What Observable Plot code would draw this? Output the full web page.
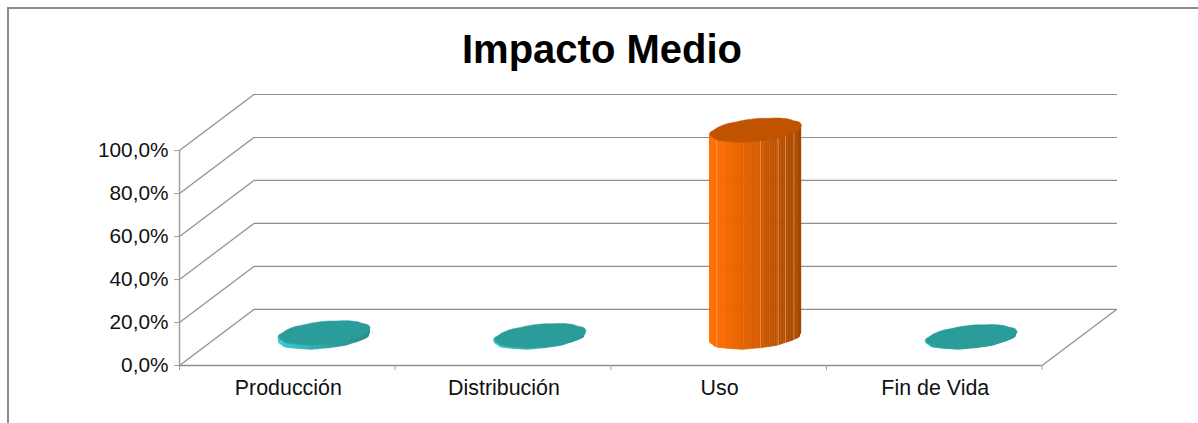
<!DOCTYPE html>
<html lang="es">
<head>
<meta charset="utf-8">
<title>Impacto Medio</title>
<script src="https://cdn.jsdelivr.net/npm/d3@7"></script>
<script src="https://cdn.jsdelivr.net/npm/@observablehq/plot@0.6"></script>
<style>
  html, body { margin: 0; background: #fff; }
  #chart { position: relative; width: 1198px; height: 423px; overflow: hidden; }
  #chart svg { position: absolute; left: 0; top: 0; }
  #border { position: absolute; left: 7px; top: 7px; right: 0; bottom: 0;
            border-left: 2px solid #8c8c8c; border-top: 2px solid #8c8c8c; }
</style>
</head>
<body>
<div id="chart"><div id="border"></div></div>
<script>
// Life-cycle stages and their share of the mean impact (percent)
const stages = ["Producción", "Distribución", "Uso", "Fin de Vida"];
const impact = [2.2, 0.9, 96.5, 0.4];
const percentTicks = [0, 20, 40, 60, 80, 100];
const stageEdges = [0, 1, 2, 3, 4];

// Oblique projection of the 3D box: how far the back wall is shifted,
// in category units along x and percent units along y
const depthX = 0.345;
const depthY = 26.1;

// Cylinder cross-section on the floor
const radius = 0.198;      // category units
const thickness = 0.43;    // share of the box depth

const project = {
  x: (d) => d.cat + d.depth * depthX,
  y: (d) => d.val + d.depth * depthY
};

const teal = {top: "#2a9d9a", side: ["#38d2d3", "#35c8c9", "#2ba5a5", "#289493", "#26898a"]};
const orange = {top: "#c05300", side: ["#ff7100", "#fc6c00", "#d95e00", "#b95100", "#a34600"]};
const palettes = [teal, teal, orange, teal];
// Positions along the silhouette (0 = left, 1 = right) of the facet seams
const seams = [0.08, 0.55, 0.74, 0.83, 0.92];

// Slightly irregular outline of the low-resolution cylinder facets
const wobble = (a) => 1 + 0.014 * Math.cos(9 * a + 0.8) + 0.007 * Math.cos(17 * a);

const rim = (i, a, val) => {
  const w = wobble(a);
  return {
    cat: i + 0.5 + radius * w * Math.cos(a),
    depth: 0.5 + (thickness / 2) * w * Math.sin(a),
    val
  };
};

// Angle of the left silhouette point of the projected ellipse
const startAngle = Math.PI + Math.atan2((thickness / 2) * depthX, radius);
const faceted = 60;

const tops = [], strips = [], seamLines = [];
stages.forEach((stage, i) => {
  const value = impact[i];
  const shade = d3.scaleLinear().domain([0, 0.08, 0.5, 0.75, 1]).range(palettes[i].side);
  d3.range(faceted).forEach((k) => {
    const a0 = startAngle + (k / faceted) * Math.PI;
    const a1 = startAngle + ((k + 1) / faceted) * Math.PI;
    const frac = (1 - Math.cos(((k + 0.5) / faceted) * Math.PI)) / 2;
    [a0, a1].forEach((a) => {
      const low = rim(i, a, 0);
      strips.push({cat: low.cat, depth: low.depth, top: value, id: `${i}-${k}`, fill: shade(frac)});
    });
  });
  d3.range(97).forEach((k) => {
    tops.push({...rim(i, (k / 96) * 2 * Math.PI, value), id: i, fill: palettes[i].top});
  });
  if (value > 50) {
    seams.forEach((s, j) => {
      const a = startAngle + Math.acos(1 - 2 * s);
      const low = rim(i, a, 0);
      seamLines.push({...low, id: j}, {...low, val: value, id: j});
    });
  }
});

// Wireframe of the box: side wall, back wall and floor
const wallLines = percentTicks.flatMap((v) => [
  {cat: 0, depth: 0, val: v, id: `wall-${v}`},
  {cat: 0, depth: 1, val: v, id: `wall-${v}`},
  {cat: 4, depth: 1, val: v, id: `wall-${v}`}
]);
const floorEdge = [
  {cat: 4, depth: 0, val: 0},
  {cat: 4, depth: 1, val: 0}
];

const chart = Plot.plot({
  width: 1198,
  height: 423,
  marginLeft: 179,
  marginRight: 82,
  marginTop: 94,
  marginBottom: 58,
  style: {background: "transparent", fontFamily: "'Liberation Sans', Arial, sans-serif"},
  x: {type: "linear", domain: [0, 4 + depthX], axis: null},
  y: {type: "linear", domain: [0, 100 + depthY], axis: null},
  color: {type: "identity"},
  marks: [
    Plot.text(["Impacto Medio"], {
      frameAnchor: "top", dx: -46, dy: -44, lineAnchor: "middle",
      fontSize: 40, fontWeight: "bold", fill: "#000"
    }),
    Plot.line(wallLines, {...project, z: "id", stroke: "#8e8e8e", strokeWidth: 1.2}),
    Plot.line(floorEdge, {...project, stroke: "#8e8e8e", strokeWidth: 1.2}),
    Plot.ruleX([0], {y1: 0, y2: 100, stroke: "#a0a0a0", strokeWidth: 1.5}),
    Plot.ruleY([0], {x1: 0, x2: 4, stroke: "#8e8e8e", strokeWidth: 1.5}),
    Plot.axisY(percentTicks, {
      anchor: "left", tickSize: 5, tickPadding: 6, stroke: "#a0a0a0",
      fontSize: 20.8, color: "#111", label: null,
      tickFormat: (d) => d3.format(".1f")(d).replace(".", ",") + "%"
    }),
    Plot.axisX(stageEdges, {
      anchor: "bottom", tickSize: 5, stroke: "#a0a0a0", label: null, tickFormat: () => ""
    }),
    Plot.text(stages, {
      x: (d, i) => i + 0.5, y: 0, dy: 23, dx: 1, fontSize: 21.4, fill: "#111", text: (d) => d
    }),
    Plot.areaY(strips, {
      x: project.x,
      y1: (d) => d.depth * depthY,
      y2: (d) => d.top + d.depth * depthY,
      z: "id", fill: "fill", stroke: "fill", strokeWidth: 0.6
    }),
    Plot.line(seamLines, {...project, z: "id", stroke: "#ffb27a", strokeWidth: 0.8, strokeOpacity: 0.7}),
    Plot.line(tops, {...project, z: "id", fill: "fill", stroke: "fill", strokeWidth: 0.5})
  ]
});

document.getElementById("chart").append(chart);
</script>
</body>
</html>
